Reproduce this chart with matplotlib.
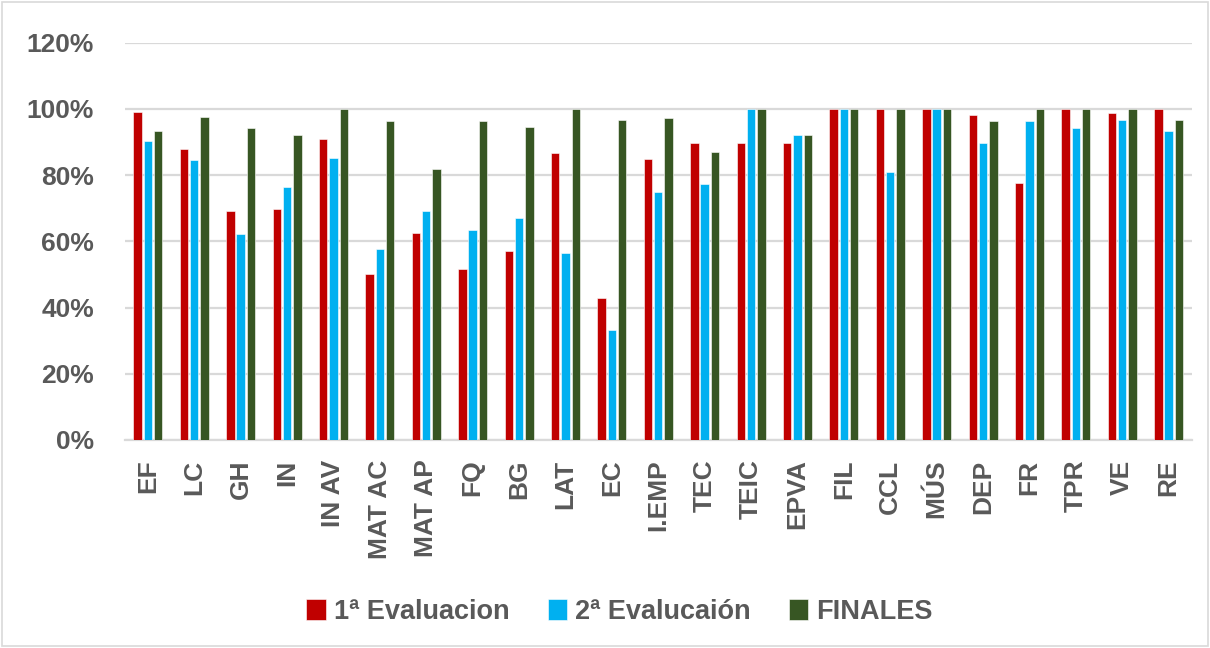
import numpy as np
import matplotlib.pyplot as plt
from matplotlib.ticker import FuncFormatter
from matplotlib.patches import Rectangle

plt.rcParams['font.family'] = ['Liberation Sans', 'DejaVu Sans']

# subjects (x categories)
subjects = ['EF', 'LC', 'GH', 'IN', 'IN AV', 'MAT AC', 'MAT AP', 'FQ', 'BG', 'LAT',
            'EC', 'I.EMP', 'TEC', 'TEIC', 'EPVA', 'FIL', 'CCL', 'MÚS', 'DEP', 'FR',
            'TPR', 'VE', 'RE']

# percent passing per evaluation
eval1 = [99.1, 87.8, 69.3, 69.9, 91.0, 50.0, 62.4, 51.7, 57.2, 86.6,
         43.0, 84.8, 89.8, 89.6, 89.6, 100, 100, 100, 98.3, 77.7,
         100, 98.9, 100]
eval2 = [90.2, 84.7, 62.2, 76.5, 85.2, 57.6, 69.1, 63.4, 67.0, 56.6,
         33.2, 74.9, 77.3, 100, 92.2, 100, 81.1, 100, 89.6, 96.3,
         94.3, 96.7, 93.4]
finales = [93.4, 97.5, 94.3, 92.0, 100, 96.5, 82.0, 96.3, 94.5, 100,
           96.7, 97.3, 87.0, 100, 92.2, 100, 100, 100, 96.5, 100,
           100, 100, 96.7]

series_names = ['1ª Evaluacion', '2ª Evalucaión', 'FINALES']
colors = ['#C00000', '#00B0F0', '#375623']
text_color = '#595959'


def main():
    fig = plt.figure(figsize=(12.1, 6.48), dpi=100)
    ax = fig.add_axes([0.103, 0.321, 0.882, 0.613])

    x = np.arange(len(subjects))
    w = 0.18
    step = 0.222
    for i, (vals, name, c) in enumerate(zip([eval1, eval2, finales], series_names, colors)):
        ax.bar(x + (i - 1) * step, vals, width=w, color=c, label=name,
               edgecolor='white', linewidth=0.4, zorder=3)

    ax.set_xlim(-0.5, len(subjects) - 0.5)
    ax.set_ylim(0, 120)
    ax.set_yticks(np.arange(0, 121, 20))
    ax.yaxis.set_major_formatter(FuncFormatter(lambda v, p: '%d%%' % v))
    ax.set_xticks(x)
    ax.set_xticklabels(subjects, rotation=90)

    ax.grid(axis='y', color='#D9D9D9', linewidth=1.6, zorder=0)
    for s in ['top', 'right', 'left']:
        ax.spines[s].set_visible(False)
    ax.spines['bottom'].set_color('#D9D9D9')
    ax.spines['bottom'].set_linewidth(1.6)
    ax.tick_params(axis='both', length=0, labelcolor=text_color, labelsize=19)
    ax.tick_params(axis='y', pad=22)
    ax.tick_params(axis='x', pad=14)
    for lbl in ax.get_xticklabels() + ax.get_yticklabels():
        lbl.set_fontweight('bold')

    leg = fig.legend(loc='center', bbox_to_anchor=(0.512, 0.056), ncol=3, frameon=False,
                     prop={'size': 19.5, 'weight': 'bold'}, handlelength=0.72,
                     handleheight=0.8, columnspacing=1.4, handletextpad=0.3)
    for t in leg.get_texts():
        t.set_color(text_color)

    # outer chart border
    fig.patches.append(Rectangle((0.002, 0.003), 0.996, 0.994, transform=fig.transFigure,
                                 fill=False, edgecolor='#D9D9D9', linewidth=1.2))

    plt.savefig('out.png', dpi=100)


if __name__ == '__main__':
    main()
